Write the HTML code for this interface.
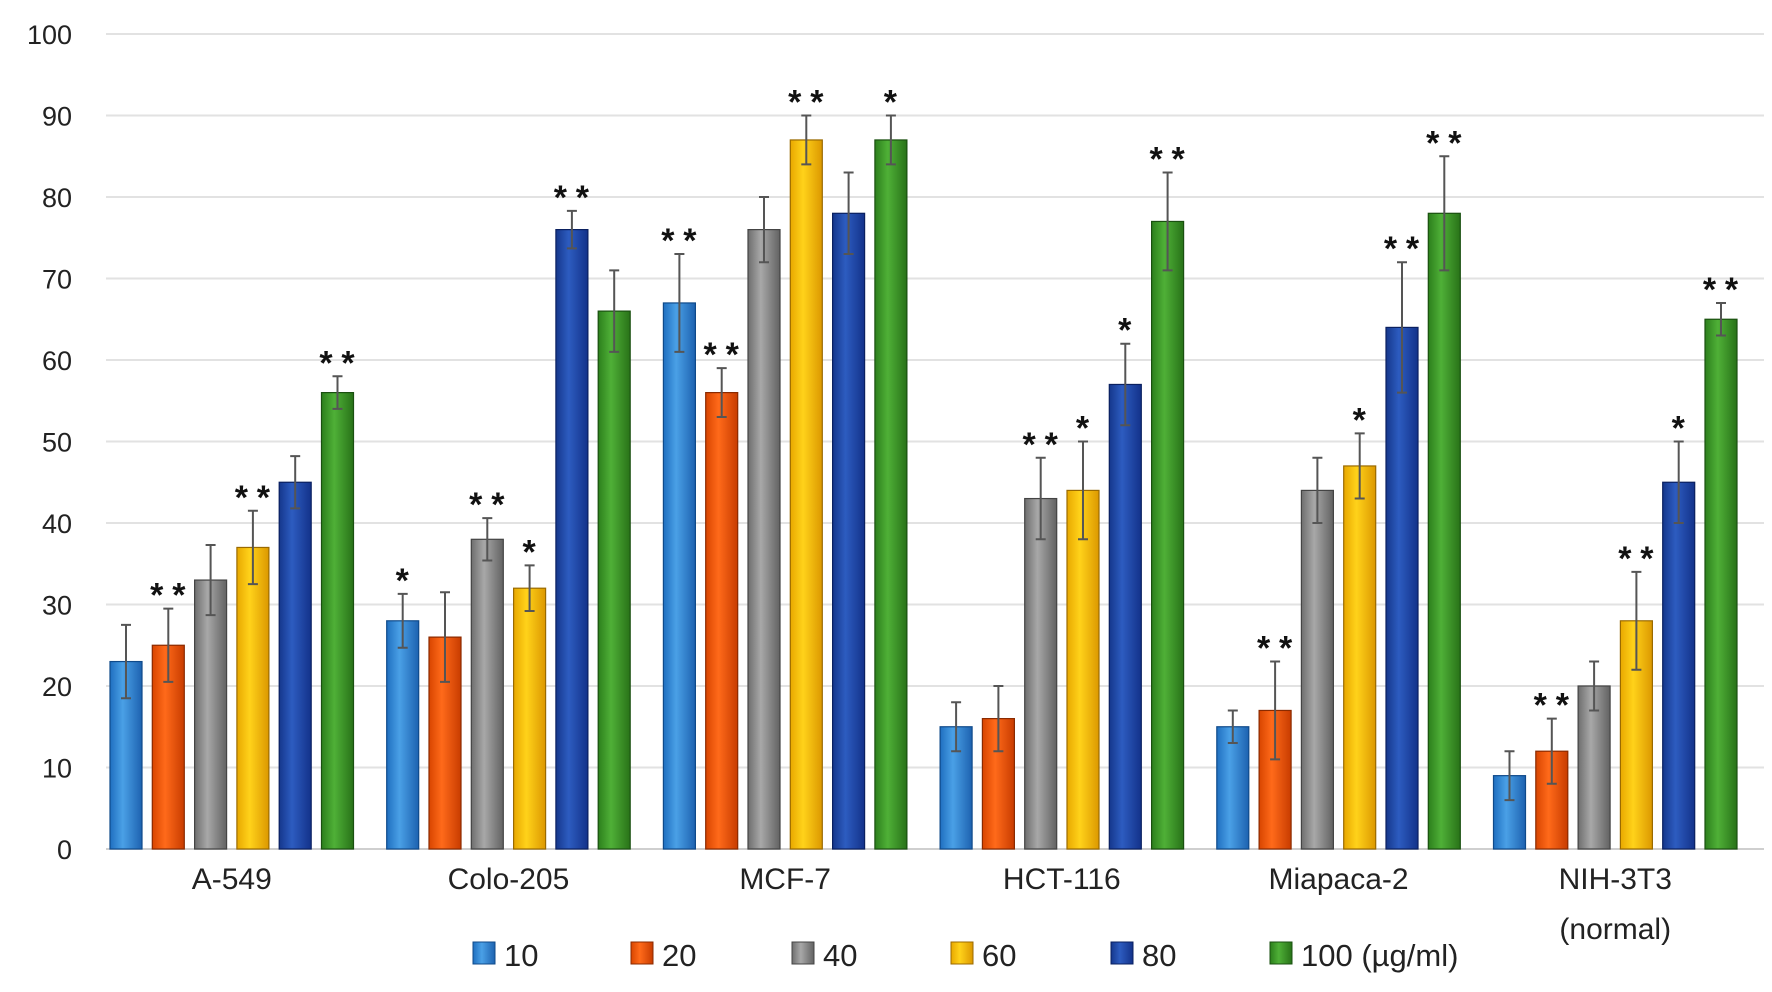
<!DOCTYPE html>
<html><head><meta charset="utf-8"><style>
html,body{margin:0;padding:0;background:#fff;}
svg{display:block;font-family:"Liberation Sans",sans-serif;}
</style></head><body>
<svg id="chart" width="1772" height="992" viewBox="0 0 1772 992" xmlns="http://www.w3.org/2000/svg">
<defs>
<linearGradient id="g0" x1="0" x2="1"><stop offset="0" stop-color="#1f6fc0"/><stop offset="0.4" stop-color="#4aa0e6"/><stop offset="1" stop-color="#1d62b0"/></linearGradient>
<linearGradient id="g1" x1="0" x2="1"><stop offset="0" stop-color="#d84500"/><stop offset="0.4" stop-color="#ff6a1a"/><stop offset="1" stop-color="#c83c00"/></linearGradient>
<linearGradient id="g2" x1="0" x2="1"><stop offset="0" stop-color="#6e6e6e"/><stop offset="0.4" stop-color="#a8a8a8"/><stop offset="1" stop-color="#626262"/></linearGradient>
<linearGradient id="g3" x1="0" x2="1"><stop offset="0" stop-color="#e8a800"/><stop offset="0.4" stop-color="#ffd21a"/><stop offset="1" stop-color="#dc9800"/></linearGradient>
<linearGradient id="g4" x1="0" x2="1"><stop offset="0" stop-color="#15378c"/><stop offset="0.4" stop-color="#2d5cc0"/><stop offset="1" stop-color="#13328a"/></linearGradient>
<linearGradient id="g5" x1="0" x2="1"><stop offset="0" stop-color="#2c7f1c"/><stop offset="0.4" stop-color="#4fb037"/><stop offset="1" stop-color="#287218"/></linearGradient>
</defs>
<g id="grid"></g>
<g id="bars"></g>
<g id="labels"></g>
<g id="legend"></g>
</svg>
<script>
const categories = ["A-549","Colo-205","MCF-7","HCT-116","Miapaca-2","NIH-3T3|(normal)"];
const seriesNames = ["10","20","40","60","80","100 (µg/ml)"];
const s10  = [23,28,67,15,15,9];
const s20  = [25,26,56,16,17,12];
const s40  = [33,38,76,43,44,20];
const s60  = [37,32,87,44,47,28];
const s80  = [45,76,78,57,64,45];
const s100 = [56,66,87,77,78,65];
const e10  = [4.5,3.3,6,3,2,3];
const e20  = [4.5,5.5,3,4,6,4];
const e40  = [4.3,2.6,4,5,4,3];
const e60  = [4.5,2.8,3,6,4,6];
const e80  = [3.2,2.3,5,5,8,5];
const e100 = [2,5,3,6,7,2];
const sig10  = ["","*","**","","",""];
const sig20  = ["**","","**","","**","**"];
const sig40  = ["","**","","**","",""];
const sig60  = ["**","*","**","*","*","**"];
const sig80  = ["","**","","*","**","*"];
const sig100 = ["**","","*","**","**","**"];
const yTicks = [0,10,20,30,40,50,60,70,80,90,100];

const series=[s10,s20,s40,s60,s80,s100], errs=[e10,e20,e40,e60,e80,e100], sigs=[sig10,sig20,sig40,sig60,sig80,sig100];
const NS="http://www.w3.org/2000/svg";
const GX=110,X1=1764,Y0=849,Y100=34;
const y=v=>Y0+(Y100-Y0)*v/100;
const gw=276.7, bw=32, bp=42.3;
const bx=(c,s)=>GX+c*gw+s*bp;
function mk(t,a,p){const e=document.createElementNS(NS,t);for(const k in a)e.setAttribute(k,a[k]);p.appendChild(e);return e;}
const grid=document.getElementById('grid'),bars=document.getElementById('bars'),labels=document.getElementById('labels'),legend=document.getElementById('legend');
yTicks.forEach(t=>{
 const l=mk('line',{x1:106,x2:X1,y1:y(t),y2:y(t),stroke:t===0?'#cfcfcf':'#e2e2e2','stroke-width':2},grid);
 
 
 const tx=mk('text',{x:72,y:y(t)+10,'text-anchor':'end','font-size':27,fill:'#222'},labels);
 tx.textContent=t;
 
 
});
const strokes=['#0f4a8a','#8a2a00','#444','#9a6a00','#0a2060','#1a5010'];
categories.forEach((c,ci)=>{
 series.forEach((s,si)=>{
  const v=s[ci],x=bx(ci,si),top=y(v);
  const r=mk('rect',{x:x,y:top,width:bw,height:Y0-top,fill:'url(#g'+si+')',stroke:strokes[si],'stroke-width':1.2},bars);
  
  
  const e=errs[si][ci],cx=x+bw/2;
  const eb=mk('path',{d:`M${cx-5},${y(v+e)}H${cx+5}M${cx},${y(v+e)}V${y(v-e)}M${cx-5},${y(v-e)}H${cx+5}`,stroke:'#555','stroke-width':2,fill:'none'},bars);
  
  
  const sg=sigs[si][ci];
  if(sg){const st=mk('text',{x:cx,y:y(v+e)-2,'text-anchor':'middle','font-size':34,'font-weight':'bold',fill:'#111','letter-spacing':1},labels);
   st.textContent=sg.split('').join('\u2009');
   
   }
 });
 const parts=c.split('|'),cx=GX+ci*gw+(5*bp+bw)/2;
 parts.forEach((p,pi)=>{const t=mk('text',{x:cx,y:889+pi*50,'text-anchor':'middle','font-size':30,fill:'#222'},labels);
  t.textContent=p;
  
  });
});
const lx=[473,631,792,951,1111,1270];
seriesNames.forEach((n,i)=>{
 const r=mk('rect',{x:lx[i],y:942,width:22,height:22,fill:'url(#g'+i+')',stroke:strokes[i]},legend);
 
 
 const t=mk('text',{x:lx[i]+31,y:966,'font-size':31,fill:'#222'},legend);
 t.textContent=n;
 
 
});
</script>
</body></html>
